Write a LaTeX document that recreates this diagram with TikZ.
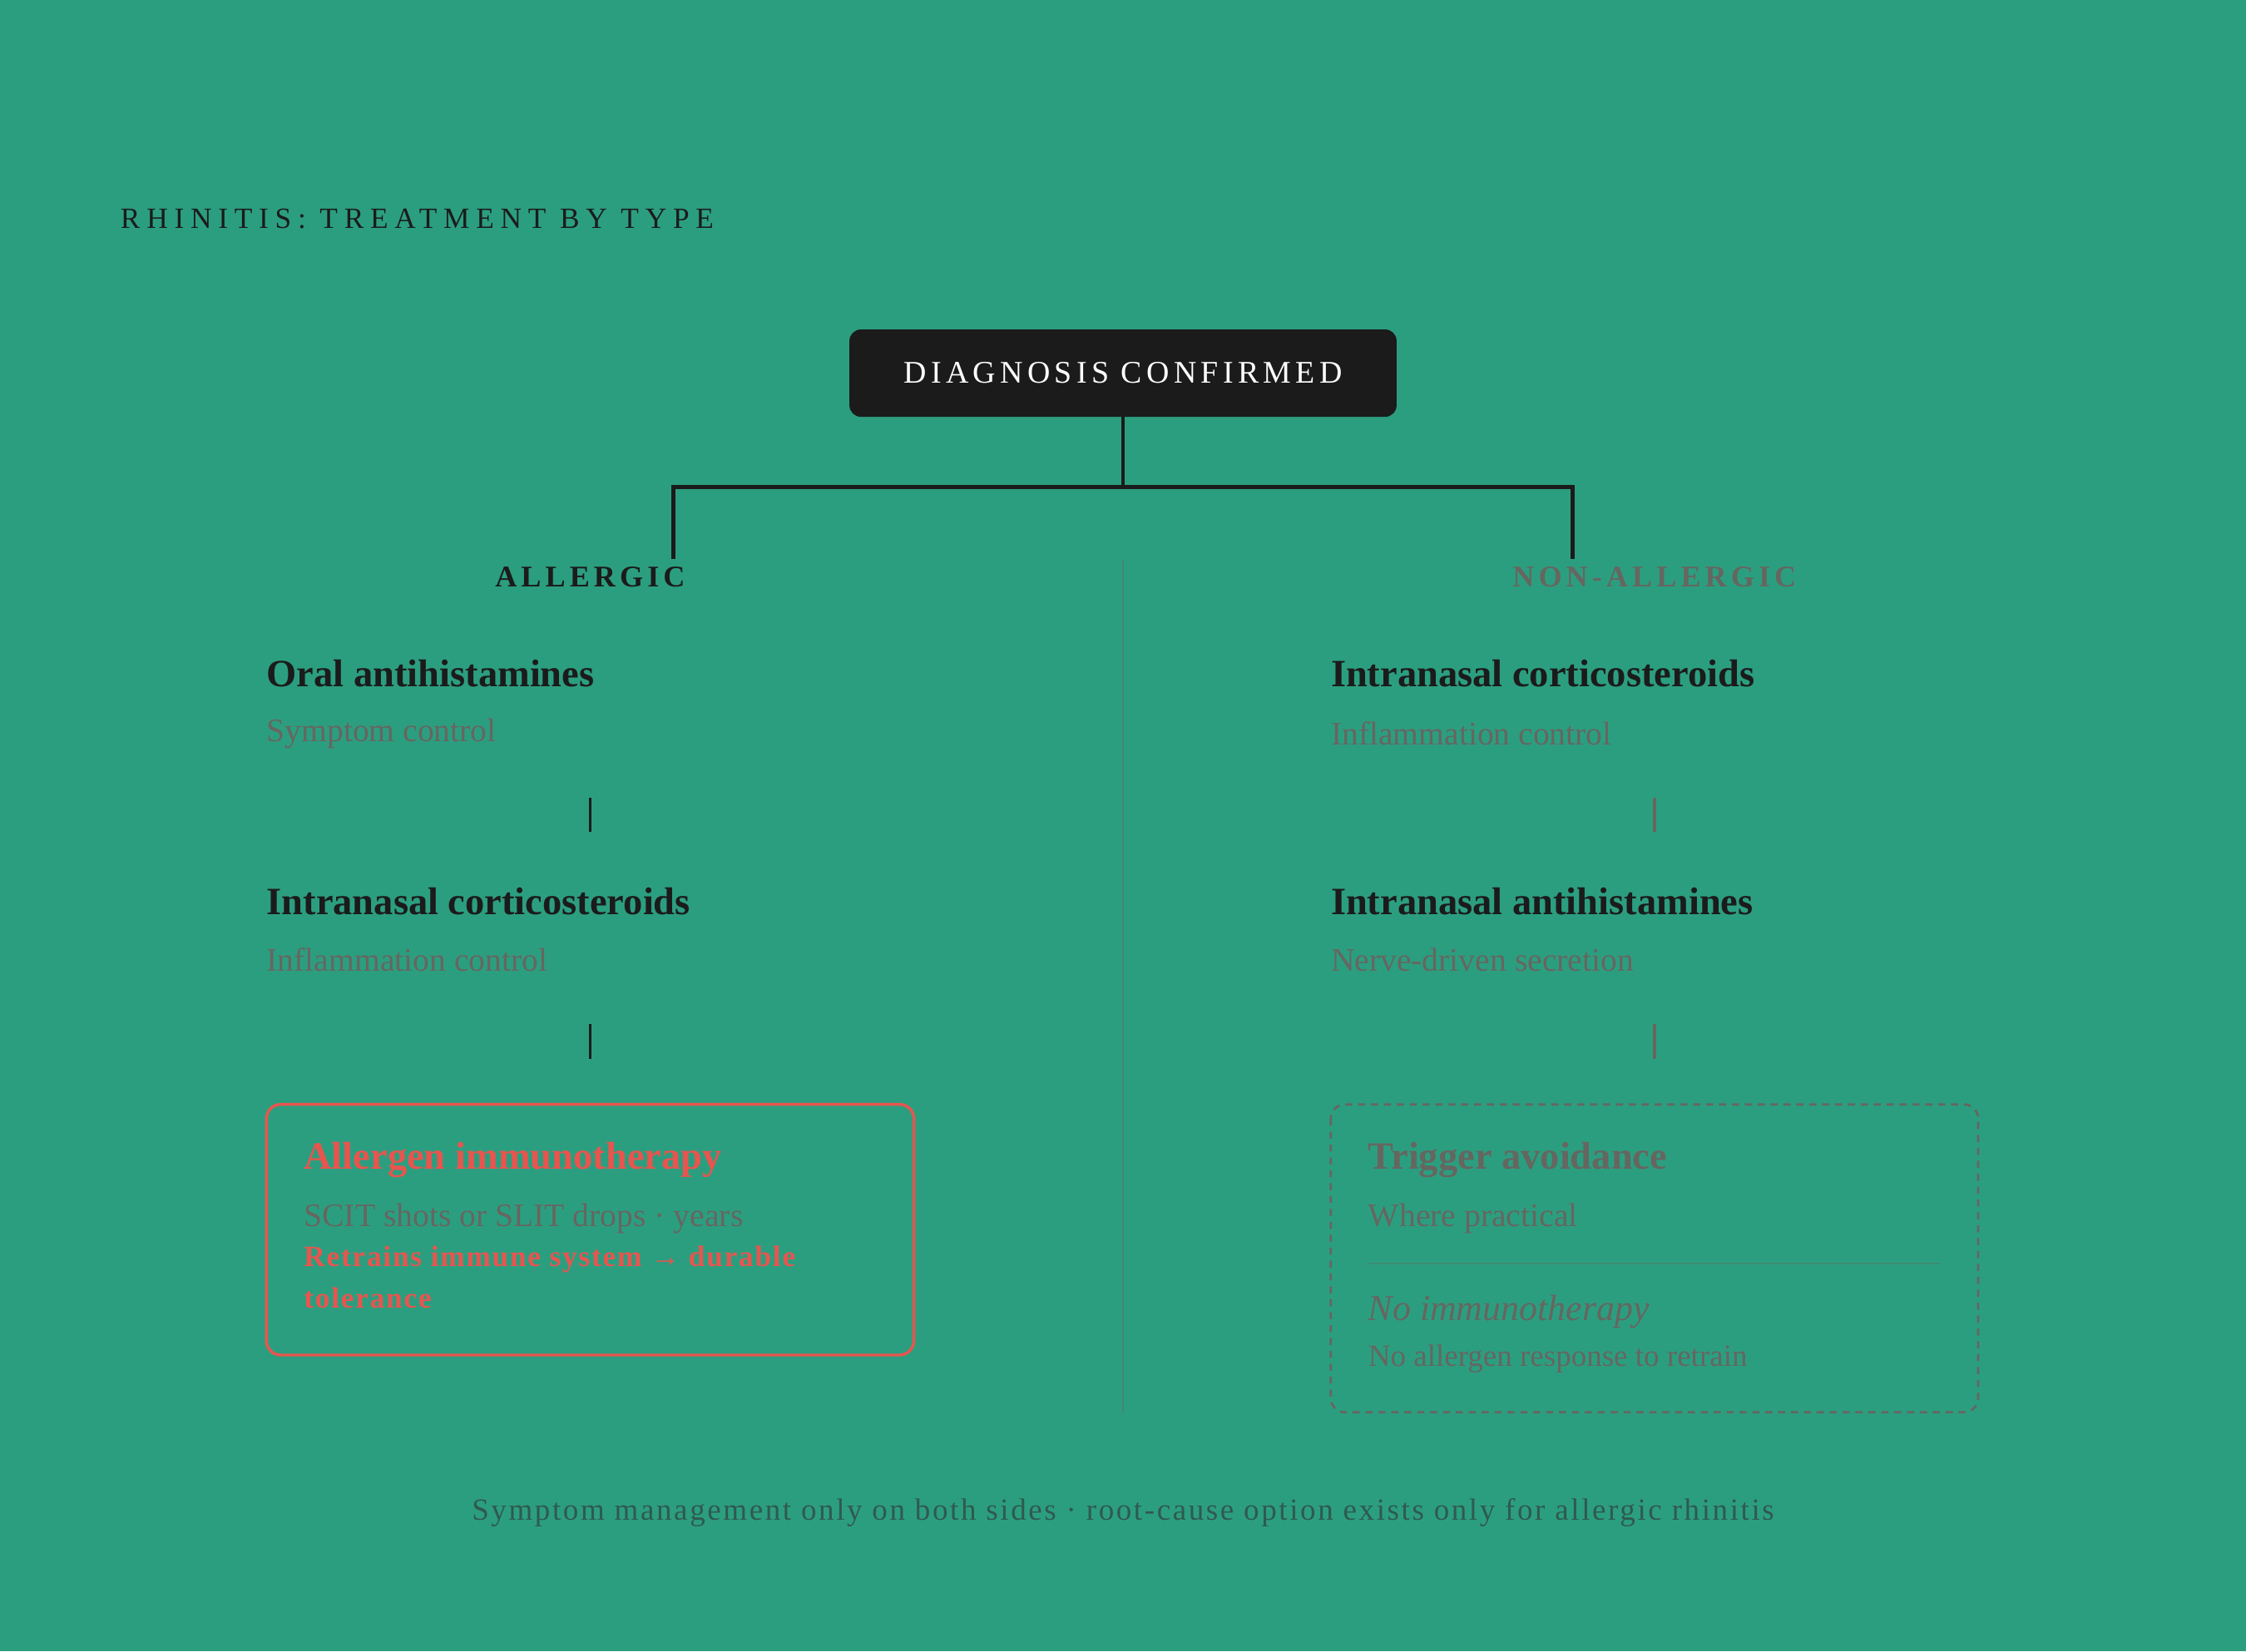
\documentclass[tikz,border=0pt]{standalone}
\usepackage{fontspec}
\setmainfont{Liberation Serif}
\newfontfamily\spaced[LetterSpace=22]{Liberation Serif}
\newfontfamily\spacedb[LetterSpace=14]{Liberation Serif}
\newfontfamily\spacedf[LetterSpace=5]{Liberation Serif}
\newfontfamily\spacedg[LetterSpace=7]{Liberation Serif}
\definecolor{bg}{HTML}{2C9E80}
\definecolor{ink}{HTML}{1B1B1B}
\definecolor{gry}{HTML}{666660}
\definecolor{rd}{HTML}{E8554E}
\definecolor{divc}{HTML}{3E8A72}
\definecolor{foot}{HTML}{2F5A4E}
\begin{document}
\begin{tikzpicture}[x=1pt,y=-1pt,
 head/.style={anchor=west,font=\fontsize{27}{30}\selectfont\bfseries,text=ink,inner sep=0},
 sub/.style={anchor=west,font=\fontsize{23}{26}\selectfont,text=gry,inner sep=0},
 tick/.style={line width=2.2pt},
 tree/.style={draw=ink,line width=2.6pt}]
\fill[bg] (0,0) rectangle (1568,1153);
\useasboundingbox (0,0) rectangle (1568,1153);
\node[anchor=west,inner sep=0,text=ink,font=\fontsize{20.5}{24}\selectfont\spaced] (title) at (84,153) {RHINITIS: TREATMENT BY TYPE};
\node[fill=ink,rounded corners=8pt,minimum width=382pt,minimum height=61pt,text=white,font=\fontsize{22}{24}\selectfont\spacedb] (dx) at (784,260.5) {DIAGNOSIS CONFIRMED};
\coordinate (j) at (784,340);
\coordinate (la) at (470,340); \coordinate (lb) at (470,389);
\coordinate (ra) at (1098,340); \coordinate (rb) at (1098,389);
\draw[tree] (dx.south) -- (j);
\draw[tree,line cap=rect] (lb) -- (la) -- (ra) -- (rb);
\node[inner sep=0,text=ink,font=\fontsize{21}{24}\selectfont\bfseries\spacedb] (al) at (412,403) {ALLERGIC};
\node[inner sep=0,text=gry,font=\fontsize{21}{24}\selectfont\bfseries\spacedb] (nal) at (1155,403) {NON-ALLERGIC};
\coordinate (d1) at (784,390); \coordinate (d2) at (784,987);
\draw[divc,line width=1.2pt] (d1) -- (d2);
% left
\node[head] (l1) at (186,470) {Oral antihistamines};
\node[sub] (l1s) at (186,512) {Symptom control};
\coordinate (t1a) at (412,557); \coordinate (t1b) at (412,581);
\draw[tick,ink] (t1a) -- (t1b);
\node[head] (l2) at (186,629) {Intranasal corticosteroids};
\node[sub] (l2s) at (186,670) {Inflammation control};
\coordinate (t2a) at (412,715); \coordinate (t2b) at (412,739);
\draw[tick,ink] (t2a) -- (t2b);
\draw[rd,line width=2pt,rounded corners=10pt] (186,771) rectangle (638,946);
\node[head,text=rd] (l3) at (212,810) {Allergen immunotherapy};
\node[sub] (l3s) at (212,851) {SCIT shots or SLIT drops · years};
\node[inner sep=0,text=rd,font=\fontsize{20.5}{29}\selectfont\bfseries\spacedf,align=left,anchor=north west] (l3r) at (212,870) {Retrains immune system → durable\\tolerance};
% right
\node[head] (r1) at (929,470) {Intranasal corticosteroids};
\node[sub] (r1s) at (929,512) {Inflammation control};
\coordinate (u1a) at (1155,557); \coordinate (u1b) at (1155,581);
\draw[tick,gry] (u1a) -- (u1b);
\node[head] (r2) at (929,629) {Intranasal antihistamines};
\node[sub] (r2s) at (929,670) {Nerve-driven secretion};
\coordinate (u2a) at (1155,715); \coordinate (u2b) at (1155,739);
\draw[tick,gry] (u2a) -- (u2b);
\draw[gry,line width=1.6pt,dashed,dash pattern=on 5pt off 4pt,rounded corners=10pt] (929,771) rectangle (1381,986);
\node[head,text=gry] (r3) at (955,810) {Trigger avoidance};
\node[sub] (r3s) at (955,851) {Where practical};
\coordinate (s1) at (955,882); \coordinate (s2) at (1355,882);
\draw[divc,line width=1.2pt] (s1) -- (s2);
\node[sub,font=\fontsize{25.5}{28}\selectfont\itshape] (r3i) at (955,916) {No immunotherapy};
\node[sub,font=\fontsize{21.5}{24}\selectfont] (r3n) at (955,949) {No allergen response to retrain};
\node[inner sep=0,text=foot,font=\fontsize{21.5}{24}\selectfont\spacedg] (ft) at (784,1056) {Symptom management only on both sides · root-cause option exists only for allergic rhinitis};
\end{tikzpicture}
\end{document}
